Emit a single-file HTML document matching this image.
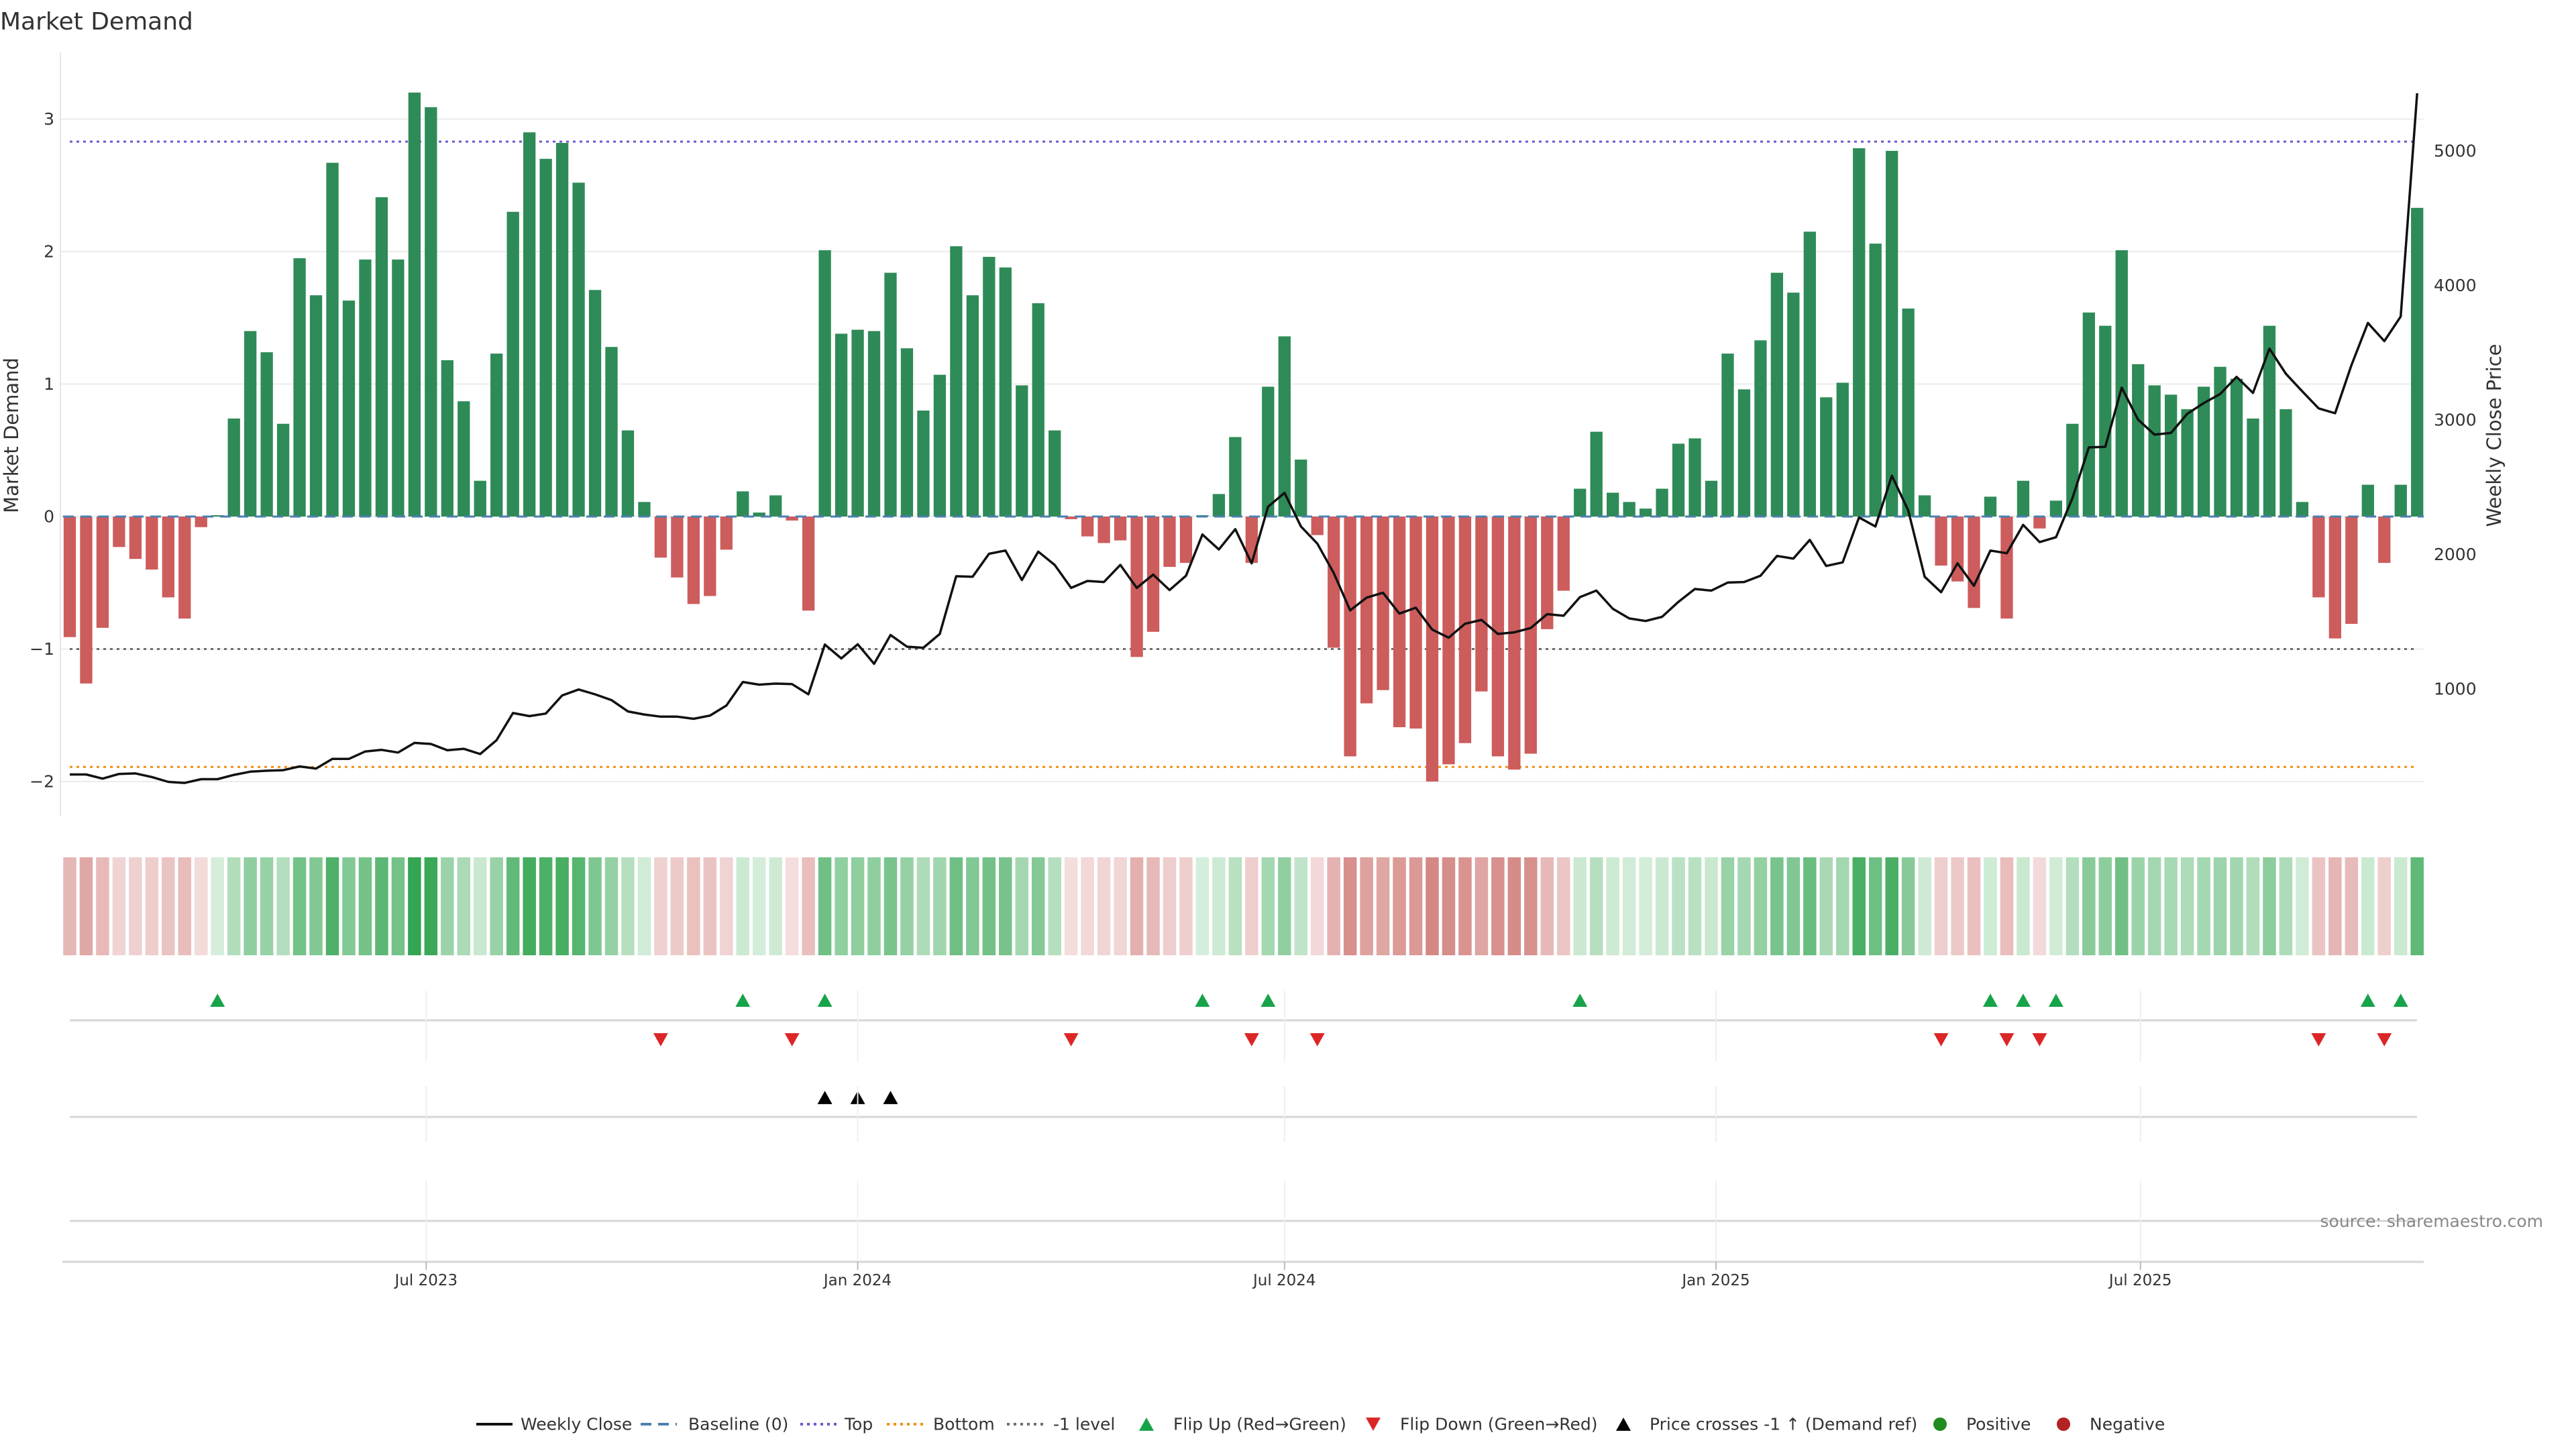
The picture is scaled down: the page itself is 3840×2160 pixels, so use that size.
<!DOCTYPE html>
<html><head><meta charset="utf-8"><title>Market Demand</title>
<style>
html,body{margin:0;padding:0;background:#fff;}
svg{display:block;font-family:"DejaVu Sans","Liberation Sans",sans-serif;}
</style></head>
<body>
<svg id="chart" width="3840" height="2160" viewBox="0 0 3840 2160" xmlns="http://www.w3.org/2000/svg">
<rect width="3840" height="2160" fill="#fff"/>
<text x="0" y="44" font-size="36" fill="#333">Market Demand</text>
<g id="grid"></g>
<g id="levels"></g>
<g id="bars"></g>
<g id="baseline"></g>
<g id="price"></g>
<g id="strip"></g>
<g id="markers"></g>
<g id="axes"></g>
<text x="17" y="649" font-size="29" fill="#333" text-anchor="middle" transform="rotate(-90 17 649)" dominant-baseline="central">Market Demand</text>
<text x="3718" y="649" font-size="29" fill="#333" text-anchor="middle" transform="rotate(-90 3718 649)" dominant-baseline="central">Weekly Close Price</text>
<text x="3791" y="1829" font-size="25" fill="#888" text-anchor="end">source: sharemaestro.com</text>
<g id="legend"></g>
</svg>
<script>
const firstWeek = '2023-01-30';
const demand = [-0.91,-1.26,-0.84,-0.23,-0.32,-0.40,-0.61,-0.77,-0.08,0.01,
0.74,1.40,1.24,0.70,1.95,1.67,2.67,1.63,1.94,2.41,
1.94,3.20,3.09,1.18,0.87,0.27,1.23,2.30,2.90,2.70,
2.82,2.52,1.71,1.28,0.65,0.11,-0.31,-0.46,-0.66,-0.60,
-0.25,0.19,0.03,0.16,-0.03,-0.71,2.01,1.38,1.41,1.40,
1.84,1.27,0.80,1.07,2.04,1.67,1.96,1.88,0.99,1.61,
0.65,-0.02,-0.15,-0.20,-0.18,-1.06,-0.87,-0.38,-0.35,0.01,
0.17,0.60,-0.35,0.98,1.36,0.43,-0.14,-0.99,-1.81,-1.41,
-1.31,-1.59,-1.60,-2.00,-1.87,-1.71,-1.32,-1.81,-1.91,-1.79,
-0.85,-0.56,0.21,0.64,0.18,0.11,0.06,0.21,0.55,0.59,
0.27,1.23,0.96,1.33,1.84,1.69,2.15,0.90,1.01,2.78,
2.06,2.76,1.57,0.16,-0.37,-0.49,-0.69,0.15,-0.77,0.27,
-0.09,0.12,0.70,1.54,1.44,2.01,1.15,0.99,0.92,0.81,
0.98,1.13,1.04,0.74,1.44,0.81,0.11,-0.61,-0.92,-0.81,
0.24,-0.35,0.24,2.33];
const price = [364,364,333,368,372,345,309,301,329,329,
361,385,392,396,424,408,480,480,535,547,
527,599,591,544,555,516,619,821,798,817,
952,996,960,917,833,810,794,794,778,802,
877,1052,1032,1040,1036,960,1330,1227,1332,1187,
1401,1314,1306,1409,1838,1834,2005,2029,1810,2021,
1922,1751,1803,1795,1922,1751,1850,1735,1842,2148,
2037,2188,1934,2355,2458,2208,2081,1862,1584,1679,
1715,1560,1604,1441,1381,1485,1513,1409,1421,1453,
1556,1544,1683,1731,1596,1524,1505,1536,1648,1743,
1731,1791,1795,1842,1989,1969,2108,1914,1941,2275,
2208,2585,2327,1834,1719,1934,1767,2029,2009,2220,
2092,2128,2418,2796,2800,3240,3002,2891,2903,3046,
3125,3193,3320,3201,3530,3344,3213,3086,3050,3408,
3721,3586,3769,5429];
const leftTicks = [-2,-1,0,1,2,3];
const rightTicks = [1000,2000,3000,4000,5000];
const dateTicks = ['2023-07-01','2024-01-01','2024-07-01','2025-01-01','2025-07-01'];
const dateTickLabels = ['Jul 2023','Jan 2024','Jul 2024','Jan 2025','Jul 2025'];
const topLevel = 2.83;
const bottomLevel = -1.89;
const minusOneLevel = -1;

const NS='http://www.w3.org/2000/svg';
function mk(tag, parent, attrs){const e=document.createElementNS(NS,tag);for(const k in attrs)e.setAttribute(k,attrs[k]);parent.appendChild(e);return e;}
const DAY=86400000;
const t0=Date.parse(firstWeek+'T00:00:00Z');
const weeks=demand.map((_,i)=>t0+i*7*DAY);
const X0=104, PX_PER_DAY=24.47/7;
function xDate(t){return X0+(t-t0)/DAY*PX_PER_DAY;}
function yL(v){return 770-v*197.5;}
function yR(p){return 225+(5000-p)*0.2005;}
const PL=90, PR=3613;

const grid=document.getElementById('grid');
leftTicks.forEach(v=>{const l=mk('line',grid,{x1:PL,x2:PR,y1:yL(v),y2:yL(v),stroke:'#ececec','stroke-width':2});

});

const lv=document.getElementById('levels');
[[topLevel,'#6a5acd'],[bottomLevel,'#f0900f'],[minusOneLevel,'#6e6e6e']].forEach(([v,c])=>{
 const l=mk('line',lv,{x1:104,x2:3603,y1:yL(v),y2:yL(v),stroke:c,'stroke-width':3,'stroke-dasharray':'4 6'});
 
 
});

const bars=document.getElementById('bars');
const BW=18.3;
demand.forEach((v,i)=>{const x=xDate(weeks[i]);const y=Math.min(yL(0),yL(v));const h=Math.abs(yL(v)-yL(0));
 const r=mk('rect',bars,{x:x-BW/2,y:y,width:BW,height:Math.max(h,0.5),fill:v>=0?'#2e8b57':'#cd5c5c'});
 
 
});
const bl=document.getElementById('baseline');
const b0=mk('line',bl,{x1:94,x2:3613,y1:yL(0),y2:yL(0),stroke:'#4a7fb0','stroke-width':3,'stroke-dasharray':'16 10'});



const pg=document.getElementById('price');
const pts=price.map((p,i)=>xDate(weeks[i]).toFixed(1)+','+yR(p).toFixed(1)).join(' ');
const pl=mk('polyline',pg,{points:pts,fill:'none',stroke:'#111','stroke-width':3.5,'stroke-linejoin':'round'});



function mix(a,b,t){return 'rgb('+a.map((c,k)=>Math.round(c+(b[k]-c)*t)).join(',')+')';}
const strip=document.getElementById('strip');
demand.forEach((v,i)=>{const x=xDate(weeks[i]);let col;
 if(v>=0){col=mix([214,238,219],[52,165,82],Math.min(v/3.2,1));}else{col=mix([244,222,222],[212,136,132],Math.min(-v/2,1));}
 const r=mk('rect',strip,{x:x-9.75,y:1278,width:19.5,height:146,fill:col});
 
 
});

const ax=document.getElementById('axes');
const yaxis=mk('line',ax,{x1:PL,x2:PL,y1:78,y2:1217,stroke:'#e6e6e6','stroke-width':2});


leftTicks.forEach(v=>{const t=mk('text',ax,{x:81,y:yL(v),'font-size':25,fill:'#333','text-anchor':'end','dominant-baseline':'central'});
 t.textContent=(v<0?'\u2212'+(-v):String(v));
 
 });
rightTicks.forEach(p=>{const t=mk('text',ax,{x:3628,y:yR(p),'font-size':25,fill:'#333','dominant-baseline':'central'});
 t.textContent=String(p);
 
 });
// panel lines
[1521,1665,1820].forEach(y=>{const l=mk('line',ax,{x1:104,x2:3603,y1:y,y2:y,stroke:'#d6d6d6','stroke-width':3});
 
 });
const xa=mk('line',ax,{x1:93,x2:3613,y1:1881,y2:1881,stroke:'#d6d6d6','stroke-width':3});


dateTicks.forEach((d,k)=>{const x=xDate(Date.parse(d+'T00:00:00Z'));
 [[1477,1582],[1619,1702],[1760,1880]].forEach(([a,b])=>{const g=mk('line',ax,{x1:x,x2:x,y1:a,y2:b,stroke:'#efefef','stroke-width':2});
  
  });
 const tk=mk('line',ax,{x1:x,x2:x,y1:1881,y2:1893,stroke:'#bbb','stroke-width':2});
 
 
 const t=mk('text',ax,{x:x,y:1916,'font-size':23,fill:'#333','text-anchor':'middle'});
 t.textContent=dateTickLabels[k];
 
 
});

const mg=document.getElementById('markers');
function tri(x,y,up,col,s){const h=s*0.9;const p=up?`${x-s/2},${y+h/2} ${x+s/2},${y+h/2} ${x},${y-h/2}`:`${x-s/2},${y-h/2} ${x+s/2},${y-h/2} ${x},${y+h/2}`;return mk('polygon',mg,{points:p,fill:col});}
const crossLevel=5000-(yL(minusOneLevel)-225)/0.2005;
for(let i=1;i<demand.length;i++){const x=xDate(weeks[i]);
 if(demand[i-1]<0&&demand[i]>=0){const m=tri(x,1491,true,'#16a34a',22);
  
  }
 if(demand[i-1]>=0&&demand[i]<0){const m=tri(x,1550,false,'#dc2626',22);
  
  }
 if(price[i-1]<crossLevel&&price[i]>=crossLevel){const m=tri(x,1636,true,'#000',22);
  
  }
}

const lg=document.getElementById('legend');
const LY=2123;
function ltxt(x,s,n){const t=mk('text',lg,{x:x,y:LY,'font-size':25,fill:'#333','dominant-baseline':'central'});t.textContent=s;
 
 }
function lline(x1,x2,c,d,w){const l=mk('line',lg,{x1:x1,x2:x2,y1:LY,y2:LY,stroke:c,'stroke-width':w,'stroke-dasharray':d});
 
 }
lline(710,764,'#111','none',4); ltxt(776,'Weekly Close','legend-weekly-close');
lline(955,1009,'#4a7fb0','16 10',4); ltxt(1026,'Baseline (0)','legend-baseline');
lline(1193,1247,'#6a5acd','4 6',4); ltxt(1259,'Top','legend-top');
lline(1322,1376,'#f0900f','4 6',4); ltxt(1391,'Bottom','legend-bottom');
lline(1501,1555,'#6e6e6e','4 6',4); ltxt(1570,'-1 level','legend-minus-one');
let m;
m=tri(1709,LY,true,'#16a34a',22);  
ltxt(1749,'Flip Up (Red\u2192Green)','legend-flip-up-label');
m=tri(2047,LY,false,'#dc2626',22);  
ltxt(2087,'Flip Down (Green\u2192Red)','legend-flip-down-label');
m=tri(2420,LY,true,'#000',22);  
ltxt(2459,'Price crosses -1 \u2191 (Demand ref)','legend-price-cross-label');
m=mk('circle',lg,{cx:2892,cy:LY,r:10,fill:'#228b22'});  
ltxt(2931,'Positive','legend-positive');
m=mk('circle',lg,{cx:3076,cy:LY,r:10,fill:'#b22222'});  
ltxt(3115,'Negative','legend-negative');
</script>
</body></html>
